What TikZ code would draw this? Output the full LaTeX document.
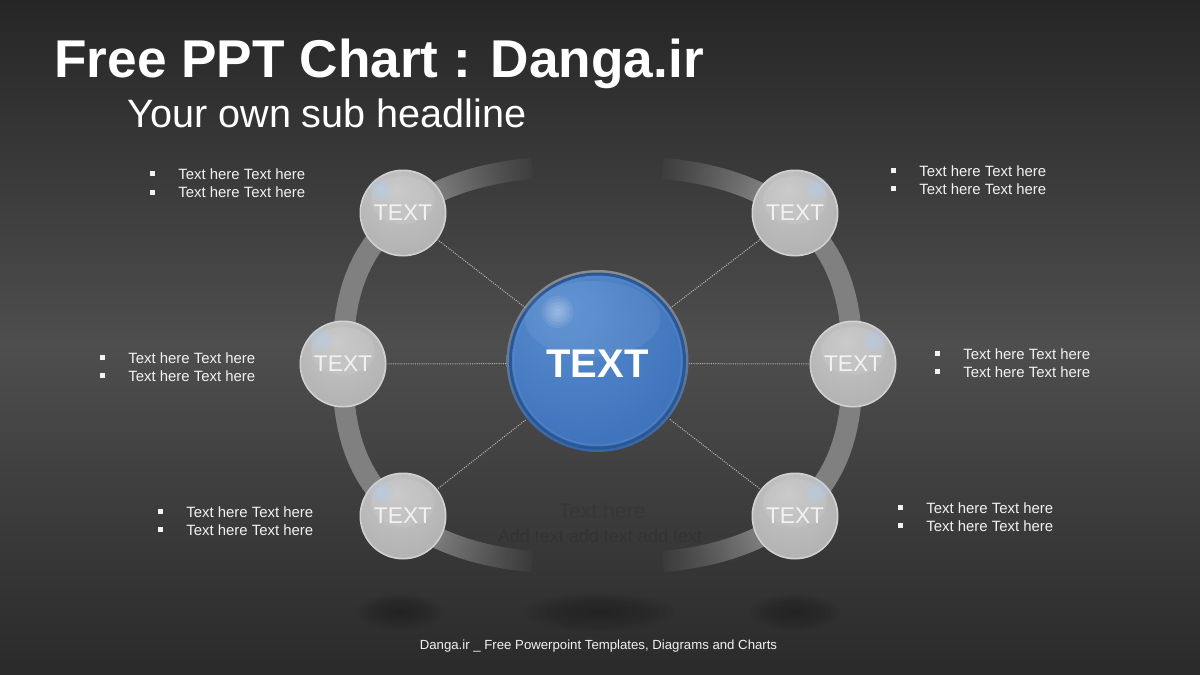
\documentclass[tikz,border=0pt]{standalone}
\usepackage{fontspec}
\setmainfont{Liberation Sans}
\definecolor{bgtop}{HTML}{262626}
\definecolor{bgmid}{HTML}{4E4E4E}
\definecolor{bgbot}{HTML}{2A2A2A}
\definecolor{ringc}{HTML}{808080}
\definecolor{ringbgt}{HTML}{3A3A3A}
\definecolor{ringbgb}{HTML}{373737}
\definecolor{txtc}{HTML}{F2F2F2}
\definecolor{conc}{HTML}{B4B4B4}
\definecolor{g1}{HTML}{C6C6C6}
\definecolor{g2}{HTML}{B4B4B4}
\definecolor{g3}{HTML}{9E9E9E}
\definecolor{grim}{HTML}{D2D2D2}
\definecolor{b1}{HTML}{5A8ED0}
\definecolor{b2}{HTML}{4176BE}
\definecolor{b3}{HTML}{2F62A3}
\definecolor{brim}{HTML}{2A5793}
\definecolor{btop}{HTML}{8C8C8C}
\definecolor{bbot}{HTML}{3565A8}
\definecolor{hlc}{HTML}{B8CFEA}
\definecolor{faintc}{HTML}{373737}
\definecolor{faintd}{HTML}{333333}
\pgfdeclareradialshading{gsh}{\pgfpoint{-4bp}{14bp}}{color(0bp)=(g1); color(30bp)=(g2); color(62bp)=(g3)}
\pgfdeclareradialshading{bsh}{\pgfpoint{-10bp}{16bp}}{color(0bp)=(b1); color(30bp)=(b2); color(66bp)=(b3)}
\newcommand{\bulsq}{\makebox[14pt][l]{\rule[1.35pt]{2.5pt}{2.5pt}}}
\newcommand{\grayball}[3]{%
  \begin{scope}[shift={(#1,#2)}]
    \fill[grim] (0,0) circle (43.5);
    \shade[shading=gsh] (0,0) circle (41.8);
    \fill[white, opacity=0.08] (0,-13) ellipse (32 and 24);
    \foreach \r in {12,10,8,6,4}{\fill[hlc, opacity=0.16] ({#3*22},-24) circle (\r);}
  \end{scope}}
\newcommand{\blueball}[2]{%
  \begin{scope}[shift={(#1,#2)}]
    \shade[top color=btop, bottom color=bbot] (0,0) circle (91);
    \fill[brim] (0,0) circle (88.5);
    \shade[shading=bsh] (0,0) circle (85.5);
    \draw[b1, opacity=0.5, line width=0.6pt] (0,0) circle (84);
    \fill[white, opacity=0.06] (-5,-42) ellipse (68 and 38);
    \foreach \r in {16,13,10,7,4}{\fill[white, opacity=0.08] (-40,-49) circle (\r);}
  \end{scope}}
\tikzset{
  declare function={
    sxf(\t)=(cos(\t)<0 ? -1 : 1)*pow(max(abs(cos(\t)),0.0001),0.778);
    syf(\t)=(sin(\t)<0 ? -1 : 1)*pow(max(abs(sin(\t)),0.0001),0.778);
  },
  ring/.style={line width=10.5pt, line cap=butt},
  conn/.style={draw=conc, line width=0.5pt, dash pattern=on 0.5pt off 0.6pt},
  btxt/.style={anchor=base west, inner sep=0pt, text=txtc, font=\fontsize{7.45pt}{9pt}\selectfont},
  gtxt/.style={circle, minimum size=43.5pt, inner sep=0pt, text=txtc, font=\fontsize{11.35pt}{13pt}\selectfont},
  btext/.style={circle, minimum size=91pt, inner sep=0pt, text=white, font=\bfseries\fontsize{20pt}{24pt}\selectfont},
  faint/.style={anchor=base, inner sep=0pt}
}
\begin{document}
\begin{tikzpicture}[x=0.5pt, y=-0.5pt]
\useasboundingbox (0,0) rectangle (1200,675);
% background
\shade[top color=bgtop, bottom color=bgmid] (0,0) rectangle (1200,346);
\shade[top color=bgmid, bottom color=bgbot] (0,344) rectangle (1200,675);
% floor shadows
\foreach \k in {1,...,10}{
  \pgfmathsetmacro\f{(11-\k)/10}
  \fill[black, opacity=0.022] (400,612) ellipse ({44*\f} and {18*\f});
  \fill[black, opacity=0.022] (599,612) ellipse ({76*\f} and {19*\f});
  \fill[black, opacity=0.022] (795,612) ellipse ({45*\f} and {18*\f});
}
% faint hidden text
\node[faint, text=faintc, font=\fontsize{10.6pt}{12pt}\selectfont] (f1) at (602,518) {Text here};
\node[faint, text=faintd, font=\fontsize{9pt}{11pt}\selectfont] (f2) at (600,542) {Add text add text add text};
% ring
\draw[ring, draw=ringc] plot[domain=124:236, samples=45, variable=\t] ({597.5+254.5*sxf(\t)},{365-199*syf(\t)});
\draw[ring, draw=ringc] plot[domain=-56:56, samples=45, variable=\t] ({597.5+254.5*sxf(\t)},{365-199*syf(\t)});
\foreach \i in {0,...,39}{
  \pgfmathsetmacro\pc{6+94*\i/39}
  \pgfmathsetmacro\ta{100+0.625*\i}\pgfmathsetmacro\tb{\ta+1.0}
  \pgfmathsetmacro\tc{259.375-0.625*\i}\pgfmathsetmacro\td{\tc+0.625}
  \pgfmathsetmacro\te{79.375-0.625*\i}\pgfmathsetmacro\tf{\te+0.625}
  \pgfmathsetmacro\tg{-80+0.625*\i}\pgfmathsetmacro\th{\tg+1.0}
  \draw[ring, draw=ringc!\pc!ringbgt] plot[domain=\ta:\tb, samples=2, variable=\t] ({597.5+254.5*sxf(\t)},{365-199*syf(\t)});
  \draw[ring, draw=ringc!\pc!ringbgb] plot[domain=\tc-0.4:\td, samples=2, variable=\t] ({597.5+254.5*sxf(\t)},{365-199*syf(\t)});
  \draw[ring, draw=ringc!\pc!ringbgt] plot[domain=\te-0.4:\tf, samples=2, variable=\t] ({597.5+254.5*sxf(\t)},{365-199*syf(\t)});
  \draw[ring, draw=ringc!\pc!ringbgb] plot[domain=\tg:\th, samples=2, variable=\t] ({597.5+254.5*sxf(\t)},{365-199*syf(\t)});
}
% spheres
\grayball{403}{213}{-1}
\grayball{795}{213}{1}
\grayball{343}{364}{-1}
\grayball{853}{364}{1}
\grayball{403}{516}{-1}
\grayball{795}{516}{1}
\blueball{597.5}{361}
\node[gtxt] (tl) at (403,213) {TEXT};
\node[gtxt] (tr) at (795,213) {TEXT};
\node[gtxt] (ml) at (343,364) {TEXT};
\node[gtxt] (mr) at (853,364) {TEXT};
\node[gtxt] (bl) at (403,516) {TEXT};
\node[gtxt] (br) at (795,516) {TEXT};
\node[btext] (c) at (597.5,363.5) {TEXT};
% connectors
\foreach \n in {tl,tr,ml,mr,bl,br}{ \draw[conn] (c) -- (\n); }
% bullet texts
\node[btxt] (tla) at (150,179) {\bulsq Text here Text here};
\node[btxt] (tlb) at (150,197.5) {\bulsq Text here Text here};
\node[btxt] (tra) at (891,176) {\bulsq Text here Text here};
\node[btxt] (trb) at (891,194) {\bulsq Text here Text here};
\node[btxt] (mla) at (100,363) {\bulsq Text here Text here};
\node[btxt] (mlb) at (100,381) {\bulsq Text here Text here};
\node[btxt] (mra) at (935,359) {\bulsq Text here Text here};
\node[btxt] (mrb) at (935,377) {\bulsq Text here Text here};
\node[btxt] (bla) at (158,517) {\bulsq Text here Text here};
\node[btxt] (blb) at (158,535) {\bulsq Text here Text here};
\node[btxt] (bra) at (898,513) {\bulsq Text here Text here};
\node[btxt] (brb) at (898,531) {\bulsq Text here Text here};
% titles
\node[anchor=base west, inner sep=0pt, text=white, font=\bfseries\fontsize{26.6pt}{30pt}\selectfont] (title) at (54,77) {Free PPT Chart : Danga.ir};
\node[anchor=base west, inner sep=0pt, text=white, font=\fontsize{19.8pt}{24pt}\selectfont] (sub) at (127,127) {Your own sub headline};
% footer
\node[anchor=base, inner sep=0pt, text=txtc, font=\fontsize{6.6pt}{8pt}\selectfont] (foot) at (598.5,649) {Danga.ir \_ Free Powerpoint Templates, Diagrams and Charts};
\end{tikzpicture}
\end{document}
